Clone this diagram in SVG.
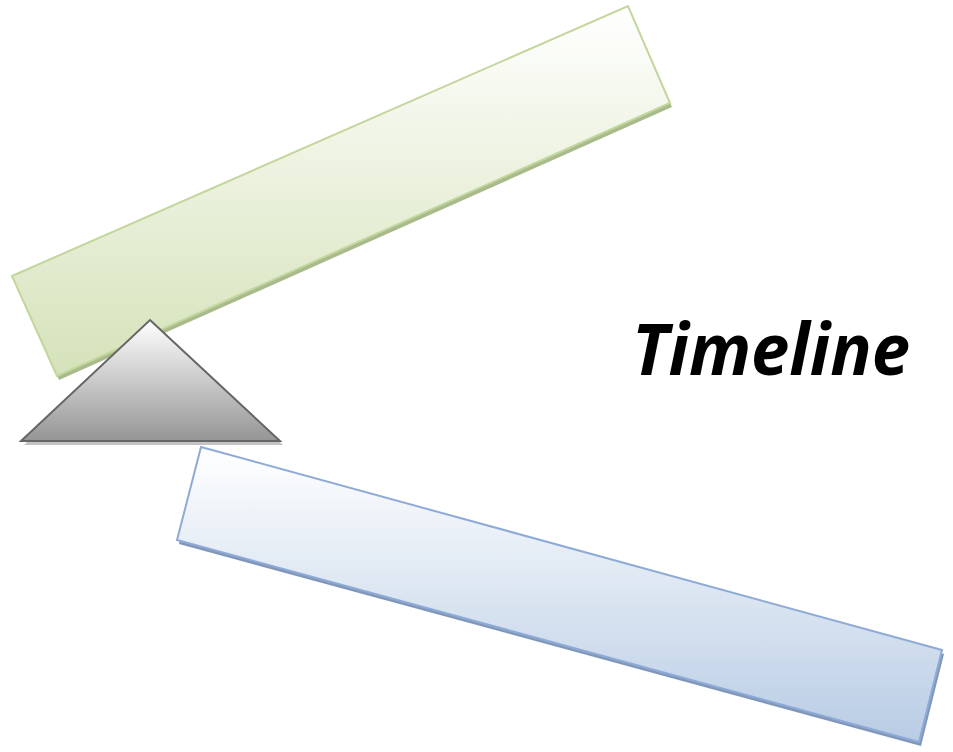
<svg xmlns="http://www.w3.org/2000/svg" width="953" height="752" viewBox="0 0 953 752">
<defs>
<linearGradient id="gGreen" x1="0" y1="0" x2="0" y2="1">
<stop offset="0" stop-color="#ffffff"/>
<stop offset="1" stop-color="#d5e2b9"/>
</linearGradient>
<linearGradient id="gBlue" x1="0" y1="0" x2="0" y2="1">
<stop offset="0" stop-color="#ffffff"/>
<stop offset="1" stop-color="#b8cce4"/>
</linearGradient>
<linearGradient id="gTri" x1="0" y1="0" x2="0" y2="1">
<stop offset="0" stop-color="#ffffff"/>
<stop offset="1" stop-color="#959595"/>
</linearGradient>
<style>
.sg{fill:#a9bb8c}
.sb{fill:#8197ba}
.st{fill:#c4c4c4}
.green{fill:url(#gGreen);stroke:#c3d69b;stroke-width:2}
.blue{fill:url(#gBlue);stroke:#8eaad6;stroke-width:2}
.tri{fill:url(#gTri);stroke:#666666;stroke-width:2;stroke-linejoin:miter}
.title{font-family:"Open Sans","Liberation Sans",sans-serif;font-weight:bold;font-style:italic;font-size:72px;fill:#000}
</style>
</defs>
<g id="green-bar">
<polygon class="sg" points="14,280 630,10 672,107 59,380"/>
<polygon class="green" points="12,276 628,6 670,103 57,376"/>
</g>
<g id="blue-bar">
<polygon class="sb" points="203,451 944,654 921,746 179,544"/>
<polygon class="blue" points="201,447 942,650 919,742 177,540"/>
</g>
<g id="fulcrum">
<polygon class="st" points="150,324 283,445 24,445"/>
<polygon class="tri" points="150,320 280,441 21,441"/>
</g>
<g id="title">
<text class="title" x="632" y="375" textLength="278" lengthAdjust="spacingAndGlyphs">Timeline</text>
</g>
<g id="connectors"></g>
</svg>
